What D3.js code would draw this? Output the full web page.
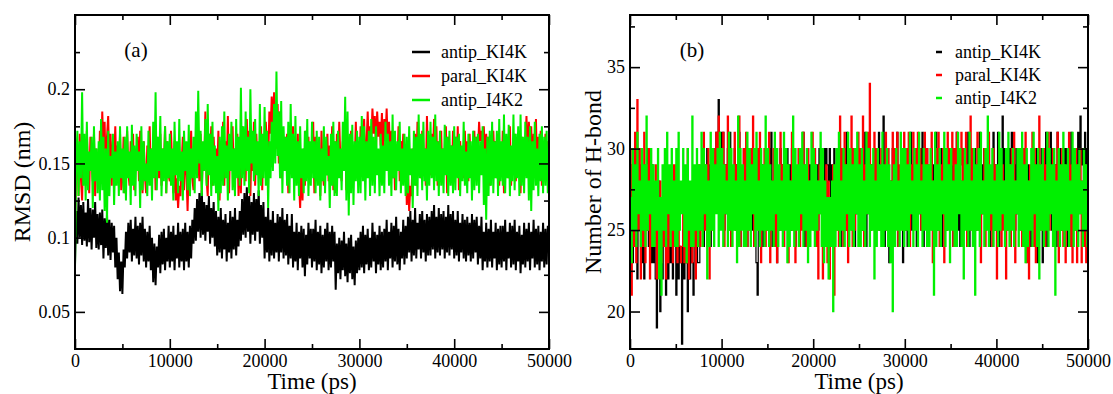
<!DOCTYPE html>
<html>
<head>
<meta charset="utf-8">
<script src="https://cdn.jsdelivr.net/npm/d3@7"></script>
<style>
  body { margin: 0; background: #fff; }
</style>
</head>
<body>
<div id="chart"></div>
<script>
const seriesNames = ["antip_KI4K", "paral_KI4K", "antip_I4K2"];
const seriesColors = ["#000000", "#ff0000", "#00f000"];
const timeTicks = [0, 10000, 20000, 30000, 40000, 50000];
const rmsdTicks = [0.05, 0.1, 0.15, 0.2];
const hbondTicks = [20, 25, 30, 35];

// RMSD samples every 125 ps, in units of 0.001 nm (one row = 2500 ps)
const rmsdAntipKI4K = [
  82,118,96,127,100,122,95,124,98,117,94,126,97,120,92,119,100,124,93,116,
  92,117,95,119,86,113,93,116,88,112,85,110,90,108,80,100,72,90,64,84,
  62,92,80,104,86,110,90,112,84,106,88,114,86,108,82,110,88,114,84,106,
  80,104,84,108,78,100,70,96,68,94,80,102,76,104,82,106,78,100,84,108,
  80,104,84,108,78,102,86,110,80,104,84,106,78,110,84,104,80,108,86,112,
  96,120,98,126,104,130,100,132,102,124,98,122,104,128,96,120,100,124,94,118,
  88,114,90,120,86,112,92,116,84,110,90,118,86,114,92,120,88,112,94,118,
  98,126,102,130,100,134,104,128,96,124,102,130,98,126,104,132,96,122,100,124,
  86,114,90,120,84,112,88,118,86,110,90,116,84,114,90,120,86,112,88,116,
  82,108,86,116,80,104,84,110,78,104,86,108,80,106,74,102,82,110,86,106,
  80,106,84,112,78,104,82,108,76,102,80,106,84,110,78,104,80,108,84,104,
  65,96,76,100,72,98,78,104,74,96,70,100,76,102,72,94,68,98,76,100,
  78,104,80,108,76,102,82,106,78,100,80,110,84,104,76,102,82,108,78,104,
  80,106,84,112,78,104,86,110,80,108,84,114,82,106,78,104,86,112,82,108,
  86,114,90,118,84,112,88,120,86,110,92,116,86,118,90,112,84,116,88,114,
  88,118,92,122,86,114,90,120,88,116,92,118,86,114,90,122,88,116,92,118,
  86,112,88,118,84,110,90,116,86,112,84,114,88,110,84,116,86,112,90,114,
  82,108,86,114,78,104,84,110,80,106,84,112,80,104,86,110,78,106,82,108,
  80,108,84,112,78,104,86,110,80,108,82,112,78,104,84,108,76,102,82,110,
  80,106,84,110,78,104,86,112,80,106,82,108,78,104,84,110,80,106,82,108,
  96
];
const rmsdParalKI4K = [
  110,150,162,128,170,140,125,165,150,135,172,145,130,168,155,138,170,128,160,145,
  135,172,150,185,160,178,140,168,182,145,170,135,165,150,175,138,162,145,170,132,
  140,168,130,160,172,145,135,165,150,170,132,158,145,168,138,172,150,130,165,142,
  130,162,150,175,138,160,145,172,132,168,155,140,170,135,160,148,175,130,165,142,
  138,172,150,130,165,125,140,120,135,128,150,168,132,160,145,118,150,138,172,140,
  132,165,145,180,150,138,170,130,162,148,185,140,128,170,152,175,135,168,145,160,
  140,172,125,160,150,178,135,165,145,182,130,168,150,175,138,160,145,170,128,165,
  130,175,145,165,138,180,150,172,128,165,145,178,135,170,150,162,140,175,132,168,
  145,178,160,150,185,170,195,175,198,180,160,190,150,185,140,172,155,168,145,170,
  130,165,150,142,175,135,160,145,170,138,120,150,125,160,135,172,145,168,140,160,
  145,178,130,168,150,140,160,128,172,145,135,165,150,170,138,162,145,175,132,165,
  130,170,142,178,150,138,165,145,175,132,168,150,140,172,135,160,148,178,140,165,
  140,175,150,165,180,148,162,185,158,175,165,187,170,182,160,185,168,178,162,184,
  155,180,165,187,160,178,150,172,140,168,132,160,145,175,138,165,150,170,140,162,
  122,145,118,135,128,160,145,170,135,178,150,165,140,172,150,160,135,182,148,168,
  142,170,155,180,165,175,135,165,148,172,140,160,150,175,130,168,145,162,140,172,
  138,168,145,175,132,165,150,160,140,172,148,165,138,170,145,158,150,172,140,168,
  155,178,165,172,160,175,150,170,148,168,135,160,145,172,150,165,140,170,135,160,
  142,172,130,165,150,168,140,175,135,160,148,170,138,165,145,172,130,168,150,162,
  160,182,150,178,165,175,145,170,155,180,140,168,150,172,135,165,148,170,142,165,
  155
];
const rmsdAntipI4K2 = [
  80,150,172,128,165,140,198,135,170,125,178,132,158,145,168,120,175,138,160,130,
  165,125,180,132,168,118,160,110,172,128,155,140,170,122,158,135,165,128,175,140,
  160,130,168,125,175,140,158,122,176,135,162,128,170,145,158,120,175,132,165,138,
  150,128,172,135,160,125,178,140,198,132,168,145,182,128,160,138,175,130,165,140,
  170,135,160,125,178,142,165,130,180,138,158,125,172,145,165,132,176,128,160,140,
  168,130,185,140,199,150,172,128,165,145,180,135,190,142,170,128,178,135,162,130,
  155,118,168,130,175,135,185,140,162,125,170,145,178,132,160,128,180,140,168,135,
  201,140,175,135,185,145,168,130,200,150,172,138,180,142,165,128,190,135,170,140,
  188,135,172,120,165,140,178,145,190,150,212,155,185,140,192,130,175,145,168,135,
  178,130,190,140,170,125,182,135,165,128,175,140,160,130,172,138,180,128,165,135,
  178,140,165,130,172,135,168,125,160,138,175,130,168,142,155,120,170,135,178,128,
  165,128,172,140,160,132,178,145,195,125,185,115,170,130,176,122,165,138,172,130,
  168,130,182,138,175,125,165,140,172,128,180,135,168,130,175,142,160,128,170,135,
  162,130,178,145,170,135,165,128,183,140,172,132,165,145,178,130,160,135,170,128,
  168,130,175,142,160,120,172,135,168,128,183,140,170,132,178,138,160,125,172,135,
  178,140,168,132,183,138,165,128,172,135,160,130,176,142,168,128,172,135,162,130,
  175,132,168,140,170,128,162,138,178,135,158,130,170,140,165,125,172,132,168,135,
  170,130,165,142,175,122,160,112,168,128,172,135,178,130,165,140,172,128,180,138,
  165,135,183,130,170,140,176,128,162,138,183,132,170,140,175,128,183,135,168,130,
  178,140,168,125,175,118,165,132,178,135,160,128,170,138,175,130,168,135,172,130,
  150
];

// H-bond counts, samples every 125 ps (one row = 2500 ps)
const hbondAntipKI4K = [
  25,29,23,30,24,28,22,27,25,29,23,26,22,28,25,30,24,27,23,29,
  23,27,22,19,24,28,20,26,22,27,24,21,26,22,28,23,25,22,27,24,
  21,26,22,24,23,18,25,22,27,23,20,24,22,26,23,21,27,24,28,23,
  23,27,25,29,24,28,26,30,25,29,24,28,27,30,29,31,30,33,28,31,
  27,31,25,29,26,30,28,31,24,28,26,30,25,29,27,31,24,28,26,30,
  25,29,24,28,26,30,25,29,24,28,23,21,26,30,25,29,24,28,26,30,
  26,30,25,31,24,28,26,29,23,28,25,30,27,29,24,28,26,30,25,29,
  25,30,26,29,24,28,27,30,25,29,26,31,24,28,27,30,25,29,26,30,
  26,30,24,29,25,30,28,29,27,30,26,30,29,28,30,27,29,28,30,27,
  28,29,27,30,24,28,26,30,25,31,24,28,26,30,25,29,24,28,26,30,
  26,30,25,29,27,31,24,28,26,30,25,29,27,30,24,28,26,31,25,29,
  25,32,24,29,27,30,23,28,26,30,25,29,27,31,24,28,26,30,23,29,
  25,29,24,28,26,31,25,29,27,30,24,28,26,30,25,31,24,29,27,30,
  24,28,26,30,25,29,27,31,25,29,26,30,24,29,27,30,25,28,26,30,
  26,30,24,28,27,31,25,29,24,28,26,30,27,29,25,31,24,28,26,30,
  26,30,25,29,27,31,24,29,26,30,25,29,27,30,24,28,26,31,25,29,
  25,31,24,28,27,32,26,30,25,29,26,30,24,31,27,29,25,30,26,29,
  27,30,26,29,28,30,27,29,26,28,24,30,26,29,25,30,23,29,27,30,
  23,28,26,31,24,29,27,31,25,30,26,29,24,31,27,30,25,29,26,30,
  26,30,24,29,27,31,25,30,26,29,27,31,28,32,29,30,28,31,29,30,
  29
];
const hbondParalKI4K = [
  30,21,29,24,31,23,33,25,30,22,28,24,31,23,29,25,30,22,28,24,
  27,24,29,22,26,24,28,23,27,24,29,22,26,23,28,24,27,23,29,24,
  29,23,26,24,23,24,28,23,24,23,30,22,27,24,23,24,28,22,27,25,
  29,24,28,26,31,25,29,24,30,22,27,25,29,30,28,31,29,32,26,30,
  26,31,24,29,27,32,25,30,24,28,26,31,25,29,27,32,24,28,26,30,
  26,31,24,28,25,30,26,32,24,29,27,30,25,31,23,28,26,30,24,29,
  25,31,23,28,26,30,24,29,23,28,26,31,25,29,24,30,26,29,23,28,
  26,31,25,29,23,28,26,30,24,29,25,31,26,29,24,30,25,28,26,31,
  25,30,24,28,22,29,26,27,22,28,25,29,23,28,22,27,24,29,21,28,
  25,29,24,32,26,30,24,31,25,29,23,28,26,32,24,30,25,29,26,31,
  26,30,28,32,24,29,26,31,28,34,25,29,26,31,24,30,25,28,26,30,
  24,29,26,31,25,30,24,28,26,31,25,30,27,31,24,29,26,30,25,31,
  25,30,27,31,24,29,26,31,28,30,29,31,28,30,25,29,27,31,28,30,
  25,29,26,31,23,28,27,30,26,31,24,29,26,30,23,28,25,31,26,30,
  29,31,24,30,27,31,28,30,29,31,28,30,26,31,24,29,27,32,25,30,
  24,28,26,31,25,29,23,28,26,30,24,29,26,31,25,28,24,30,26,29,
  22,28,26,30,24,29,25,28,22,27,25,29,24,30,26,31,23,28,26,30,
  25,29,24,30,26,31,23,28,22,29,26,31,24,30,23,28,26,32,25,29,
  25,30,24,29,26,31,25,28,27,30,24,29,26,31,23,28,25,30,24,29,
  23,28,26,31,24,29,23,28,25,30,23,29,26,30,23,28,24,29,23,28,
  26
];
const hbondAntipI4K2 = [
  27,23,30,25,29,24,31,26,28,24,30,25,29,24,32,25,28,26,30,24,
  29,24,28,25,30,22,27,21,29,25,30,24,31,26,29,24,30,25,28,24,
  30,24,31,25,28,26,30,24,29,23,30,25,28,24,32,24,29,25,30,24,
  29,25,31,24,30,26,29,22,28,24,31,25,30,24,29,26,30,24,31,25,
  30,24,29,26,28,24,31,25,30,24,29,25,28,23,32,24,30,25,29,24,
  28,24,31,25,30,24,29,26,30,24,31,25,28,24,30,25,29,24,32,25,
  30,24,29,25,28,24,31,26,30,24,29,25,28,24,31,25,30,23,29,24,
  28,25,32,24,30,25,29,24,30,26,31,24,29,25,30,23,28,24,31,25,
  30,24,29,25,28,26,31,24,30,23,28,24,27,22,27,24,28,20,29,24,
  30,25,31,24,28,25,30,24,29,26,31,24,30,25,29,24,30,26,31,24,
  29,24,30,25,28,24,31,26,30,24,29,25,30,22,28,24,30,25,29,24,
  31,24,29,25,30,24,29,23,28,20,29,24,30,25,28,24,31,25,30,24,
  30,25,29,24,31,26,28,24,30,25,29,24,31,26,28,24,30,25,29,24,
  29,24,30,25,28,21,31,24,29,25,30,24,28,26,31,24,30,25,29,23,
  30,25,28,24,29,24,31,26,30,24,28,22,30,25,29,24,31,25,28,24,
  30,21,29,25,30,24,31,26,28,24,30,25,32,24,29,26,30,24,28,25,
  29,24,31,25,30,26,28,24,30,25,31,24,29,25,30,24,28,26,30,24,
  30,25,31,24,29,23,30,24,28,25,30,24,31,26,29,24,30,22,29,25,
  30,24,28,25,31,24,30,26,29,24,30,21,28,25,30,24,29,25,31,24,
  29,25,30,24,28,26,31,24,30,25,29,24,30,26,28,24,30,25,29,24,
  27
];

const sampleStep = 125; // ps between samples
const serif = "'Liberation Serif', serif";

const svgW = 1113;
const svgH = 394;

const svg = d3.select("#chart")
  .append("svg")
  .attr("width", svgW)
  .attr("height", svgH)
  .style("font-family", serif);

function drawPanel(p) {
  const g = svg.append("g");

  const xScale = d3.scaleLinear().domain([0, 50000]).range([p.left, p.right]);
  const yScale = d3.scaleLinear().domain(p.yDomain).range([p.bottom, p.top]);

  const line = d3.line()
    .curve(p.curve)
    .x((d, i) => xScale(i * sampleStep))
    .y(d => yScale(d));

  // black first, green ends up on top
  p.series.forEach((values, k) => {
    g.append("path")
      .datum(values)
      .attr("fill", "none")
      .attr("stroke", seriesColors[k])
      .attr("stroke-width", p.lineWidth)
      .attr("d", line);
  });

  const xMinor = d3.range(5000, 50000, 10000);

  const axes = [
    { gen: d3.axisBottom(xScale).tickValues(timeTicks).tickSize(-10).tickPadding(5).tickFormat(d3.format("d")), t: `translate(0,${p.bottom})` },
    { gen: d3.axisBottom(xScale).tickValues(xMinor).tickSize(-5).tickFormat(""), t: `translate(0,${p.bottom})` },
    { gen: d3.axisTop(xScale).tickValues(timeTicks).tickSize(-10).tickFormat(""), t: `translate(0,${p.top})` },
    { gen: d3.axisTop(xScale).tickValues(xMinor).tickSize(-5).tickFormat(""), t: `translate(0,${p.top})` },
    { gen: d3.axisLeft(yScale).tickValues(p.yTicks).tickSize(-10).tickPadding(5).tickFormat(d => String(d)), t: `translate(${p.left},0)` },
    { gen: d3.axisLeft(yScale).tickValues(p.yMinor).tickSize(-5).tickFormat(""), t: `translate(${p.left},0)` },
    { gen: d3.axisRight(yScale).tickValues(p.yTicks).tickSize(-10).tickFormat(""), t: `translate(${p.right},0)` },
    { gen: d3.axisRight(yScale).tickValues(p.yMinor).tickSize(-5).tickFormat(""), t: `translate(${p.right},0)` }
  ];

  axes.forEach(a => {
    const ax = g.append("g").attr("transform", a.t).call(a.gen);
    ax.attr("font-family", null);
    ax.select(".domain").remove();
    ax.selectAll("line").attr("stroke", "#000").attr("stroke-width", 1.6);
    ax.selectAll("text")
      .style("font-family", serif)
      .style("font-size", "18px")
      .attr("fill", "#000");
  });

  g.append("rect")
    .attr("x", p.left)
    .attr("y", p.top)
    .attr("width", p.right - p.left)
    .attr("height", p.bottom - p.top)
    .attr("fill", "none")
    .attr("stroke", "#000")
    .attr("stroke-width", 2);

  g.append("text")
    .text("Time (ps)")
    .attr("x", (p.left + p.right) / 2)
    .attr("y", 389)
    .style("font-family", serif)
    .style("text-anchor", "middle")
    .style("font-size", "23px");

  g.append("text")
    .text(p.yLabel)
    .attr("transform", `translate(${p.yLabelX}, ${(p.top + p.bottom) / 2}) rotate(-90)`)
    .style("font-family", serif)
    .style("text-anchor", "middle")
    .style("font-size", "24px");

  g.append("text")
    .text(p.tag)
    .attr("x", p.tagX)
    .attr("y", 57)
    .style("font-family", serif)
    .style("text-anchor", "middle")
    .style("font-size", "21px");

  const legend = g.append("g");
  seriesNames.forEach((name, k) => {
    const y = p.legendY[k];
    legend.append("line")
      .attr("x1", p.legendLine[0])
      .attr("x2", p.legendLine[1])
      .attr("y1", y)
      .attr("y2", y)
      .attr("stroke", seriesColors[k])
      .attr("stroke-width", 2.5);
    legend.append("text")
      .text(name)
      .attr("x", p.legendTextX)
      .attr("y", y + 6)
      .style("font-family", serif)
      .style("font-size", "18px");
  });
}

drawPanel({
  left: 75, right: 549, top: 15, bottom: 349,
  yDomain: [0.025, 0.25],
  yTicks: rmsdTicks,
  yMinor: [0.075, 0.125, 0.175, 0.225],
  series: [rmsdAntipKI4K, rmsdParalKI4K, rmsdAntipI4K2].map(s => s.map(v => v / 1000)),
  curve: d3.curveLinear,
  lineWidth: 2,
  yLabel: "RMSD (nm)",
  yLabelX: 30,
  tag: "(a)",
  tagX: 136,
  legendY: [52, 76, 100],
  legendLine: [412, 430],
  legendTextX: 441
});

drawPanel({
  left: 630, right: 1088, top: 15, bottom: 349,
  yDomain: [17.7, 38.2],
  yTicks: hbondTicks,
  yMinor: [22.5, 27.5, 32.5, 37.5],
  series: [hbondAntipKI4K, hbondParalKI4K, hbondAntipI4K2],
  curve: d3.curveStepAfter,
  lineWidth: 1.2,
  yLabel: "Number of H-bond",
  yLabelX: 601,
  tag: "(b)",
  tagX: 692,
  legendY: [52, 75, 98],
  legendLine: [936, 942],
  legendTextX: 955
});
</script>
</body>
</html>
